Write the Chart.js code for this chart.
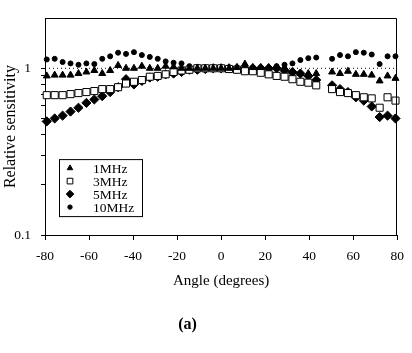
<!DOCTYPE html>
<html>
<head>
  <title>Relative sensitivity</title>
  <style>
    body { margin: 0; background: #fff; }
    #wrap { width: 412px; height: 353px; }
  </style>
</head>
<body>
  <div id="wrap"><canvas id="chart"></canvas></div>
  <script src="https://cdn.jsdelivr.net/npm/chart.js"></script>
  <script>
    // angle of each sample (degrees)
    const angles = [-79.2, -75.6, -72, -68.4, -64.8, -61.2, -57.6, -54, -50.4, -46.8, -43.2,
      -39.6, -36, -32.4, -28.8, -25.2, -21.6, -18, -14.4, -10.8, -7.2, -3.6, 0,
      3.6, 7.2, 10.8, 14.4, 18, 21.6, 25.2, 28.8, 32.4, 36, 39.6, 43.2, 46.8,
      50.4, 54, 57.6, 61.2, 64.8, 68.4, 72, 75.6, 79.2];

    // relative sensitivity per frequency (null = no sample)
    const mhz1 = [0.90, 0.91, 0.91, 0.91, 0.93, 0.95, 0.97, 0.93, 0.97, 1.04, 1.00,
      1.00, 1.03, 1.00, 1.00, 1.03, 1.02, 1.00, 1.00, 1.00, 1.00, 1.00, 1.00,
      1.00, 1.01, 1.06, 1.01, 1.01, 1.01, 1.01, 1.01, 0.95, 0.93, 0.93, 0.93, null,
      0.95, 0.93, 0.96, 0.92, 0.92, 0.91, 0.84, 0.90, 0.87];
    const mhz3 = [0.69, 0.69, 0.69, 0.70, 0.71, 0.72, 0.73, 0.75, 0.75, 0.77, 0.81,
      0.83, 0.85, 0.89, 0.90, 0.92, 0.95, 0.97, 0.98, 1.00, 1.00, 1.00, 1.00,
      0.99, 0.98, 0.96, 0.96, 0.94, 0.92, 0.90, 0.89, 0.86, 0.83, 0.82, 0.79, null,
      0.75, 0.72, 0.71, 0.69, 0.67, 0.66, 0.58, 0.67, 0.64];
    const mhz5 = [0.48, 0.50, 0.52, 0.55, 0.58, 0.62, 0.65, 0.68, 0.72, 0.77, 0.86,
      0.80, 0.84, 0.88, 0.89, 0.92, 0.93, 0.95, 0.98, 0.98, 0.99, 1.00, 1.00,
      1.00, 1.00, 1.00, 1.00, 1.00, 1.00, 1.00, 0.97, 0.95, 0.93, 0.90, 0.85, null,
      0.79, 0.75, 0.72, 0.67, 0.64, 0.59, 0.51, 0.52, 0.50];
    const mhz10 = [1.13, 1.14, 1.09, 1.07, 1.05, 1.07, 1.06, 1.14, 1.18, 1.24, 1.22,
      1.25, 1.20, 1.17, 1.14, 1.10, 1.08, 1.07, 1.03, 1.02, 1.01, 1.00, 1.00,
      1.00, 1.00, 1.00, 1.01, 1.01, 1.00, 1.03, 1.05, 1.07, 1.12, 1.15, 1.16, null,
      1.14, 1.20, 1.18, 1.25, 1.24, 1.21, 1.06, 1.18, 1.18];

    const seriesLabels = ['1MHz', '3MHz', '5MHz', '10MHz'];
    const xTicks = [-80, -60, -40, -20, 0, 20, 40, 60, 80];
    const yTicks = [0.1, 0.2, 0.3, 0.4, 0.5, 0.6, 0.7, 0.8, 0.9, 1];
    const yLabels = [0.1, 1];
    const refLevel = [1, 1];

    const FONT = 'Liberation Serif';

    function toPoints(vals) {
      return angles.map((a, i) => ({ x: a, y: vals[i] }));
    }

    const styles = [
      { pointStyle: 'triangle', radius: 4, bg: '#000', legendR: 3.2 },
      { pointStyle: 'rect', radius: 5, bg: '#fff', legendR: 4 },
      { pointStyle: 'rectRot', radius: 4.6, bg: '#000', legendR: 3.8 },
      { pointStyle: 'circle', radius: 2.5, bg: '#000', legendR: 2.2 }
    ];

    const datasets = [mhz1, mhz3, mhz5, mhz10].map((vals, i) => ({
      label: seriesLabels[i],
      data: toPoints(vals),
      pointStyle: styles[i].pointStyle,
      pointRadius: styles[i].radius,
      pointHoverRadius: styles[i].radius,
      pointBackgroundColor: styles[i].bg,
      pointBorderColor: '#000',
      pointBorderWidth: 1,
      showLine: false,
      clip: false
    }));

    // dotted line at 1
    datasets.push({
      label: 'ref',
      data: [{ x: xTicks[0], y: refLevel[0] }, { x: xTicks[xTicks.length - 1], y: refLevel[1] }],
      showLine: true,
      borderColor: '#000',
      borderWidth: 1,
      borderDash: [1, 3],
      pointRadius: 0
    });

    // box round the plot + legend + (a)
    const extras = {
      id: 'extras',
      afterDraw(chart) {
        const ctx = chart.ctx;
        const a = chart.chartArea;
        ctx.save();
        ctx.strokeStyle = '#000';
        ctx.lineWidth = 1;
        ctx.beginPath();
        ctx.moveTo(Math.round(a.left) + 0.5, Math.round(a.top) + 0.5);
        ctx.lineTo(Math.round(a.right) - 0.5, Math.round(a.top) + 0.5);
        ctx.lineTo(Math.round(a.right) - 0.5, Math.round(a.bottom));
        ctx.stroke();

        // legend
        const lx = a.left + 14, ly = a.top + 141;
        ctx.strokeRect(lx + 0.5, ly + 0.5, 83, 57);
        ctx.font = '13.5px "' + FONT + '"';
        ctx.textBaseline = 'middle';
        ctx.textAlign = 'left';
        seriesLabels.forEach((lab, i) => {
          const y = ly + 9 + i * 13;
          ctx.fillStyle = styles[i].bg;
          ctx.strokeStyle = '#000';
          ctx.lineWidth = 1;
          Chart.helpers.drawPoint(ctx, {
            pointStyle: styles[i].pointStyle,
            radius: styles[i].legendR,
            rotation: 0,
            borderWidth: 1
          }, lx + 11, y);
          ctx.fillStyle = '#000';
          ctx.fillText(lab, lx + 34, y + 1);
        });

        ctx.font = 'bold 16px "' + FONT + '"';
        ctx.textAlign = 'center';
        ctx.fillText('(a)', 187.5, 325);
        ctx.restore();
      }
    };

    new Chart(document.getElementById('chart'), {
      type: 'scatter',
      data: { datasets: datasets },
      plugins: [extras],
      options: {
        responsive: true,
        maintainAspectRatio: false,
        animation: false,
        events: [],
        layout: { padding: { top: 13, right: 12, left: 0, bottom: 0 } },
        plugins: {
          legend: { display: false },
          tooltip: { enabled: false }
        },
        scales: {
          x: {
            type: 'linear',
            min: -80,
            max: 80,
            afterBuildTicks: scale => { scale.ticks = xTicks.map(v => ({ value: v })); },
            afterFit: scale => { scale.height = 118; },
            border: { color: '#000', width: 1 },
            grid: { drawOnChartArea: false, color: '#000', tickLength: 5 },
            ticks: { color: '#000', padding: 8, maxRotation: 0, font: { family: FONT, size: 13.5 } },
            title: {
              display: true,
              text: 'Angle (degrees)',
              color: '#000',
              font: { family: FONT, size: 15 },
              padding: { top: 0, bottom: 63 }
            }
          },
          y: {
            type: 'logarithmic',
            min: 0.1,
            max: 2,
            afterBuildTicks: scale => { scale.ticks = yTicks.map(v => ({ value: v })); },
            afterFit: scale => { scale.width = 45; },
            border: { color: '#000', width: 1 },
            grid: { drawOnChartArea: false, color: '#000', tickLength: 4 },
            ticks: {
              color: '#000',
              padding: 10,
              font: { family: FONT, size: 13.5 },
              autoSkip: false,
              callback: v => (yLabels.includes(v) ? String(v) : '')
            },
            title: {
              display: true,
              text: 'Relative sensitivity',
              color: '#000',
              font: { family: FONT, size: 16 },
              padding: { top: 1, bottom: 0 }
            }
          }
        }
      }
    });
  </script>
</body>
</html>
